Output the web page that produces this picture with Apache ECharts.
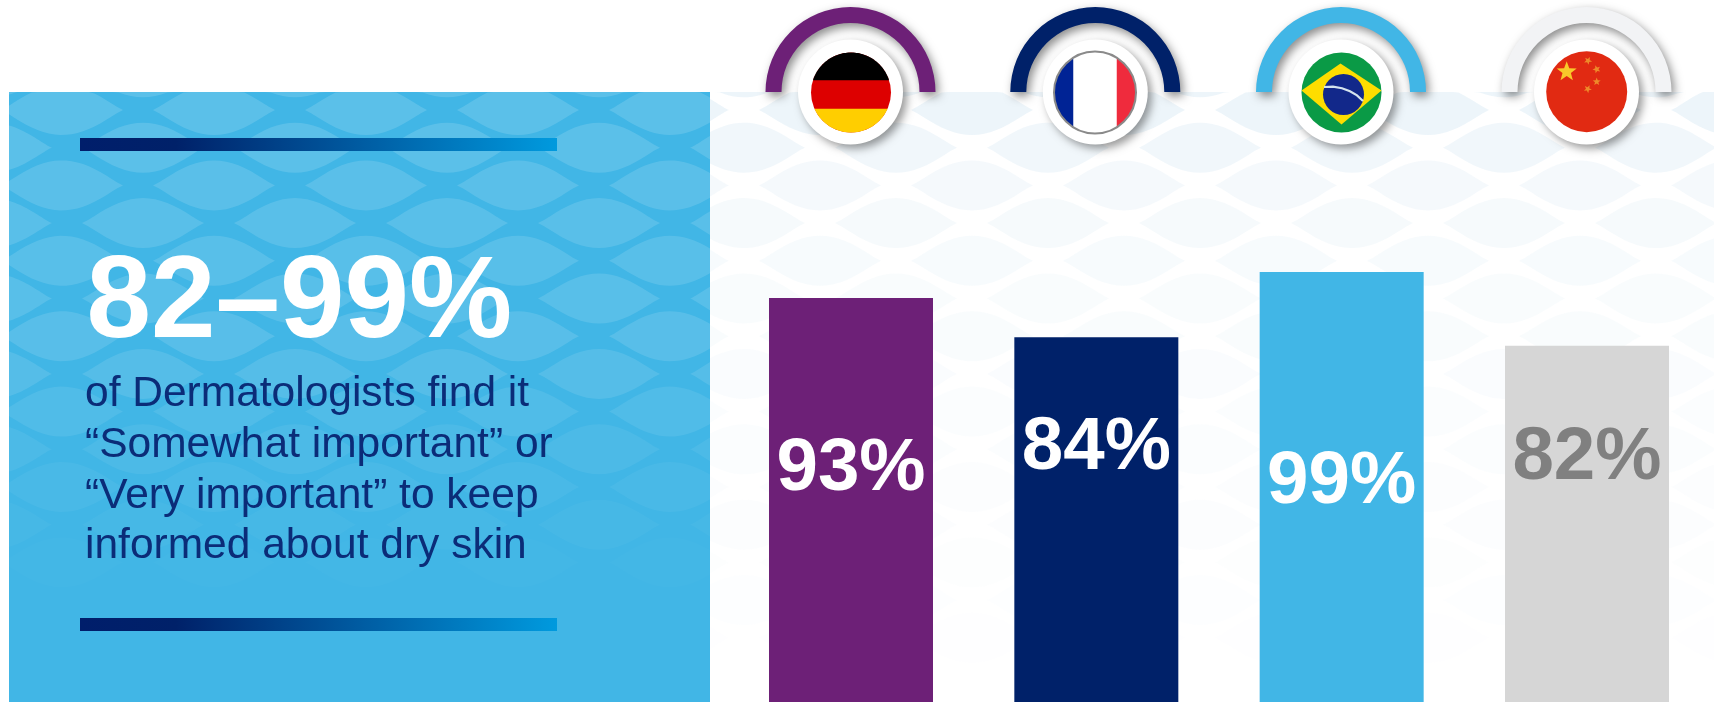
<!DOCTYPE html>
<html>
<head>
<meta charset="utf-8">
<style>html,body{margin:0;padding:0;background:#fff}#c{width:1714px;height:702px}</style>
<script src="https://cdn.jsdelivr.net/npm/echarts@6/dist/echarts.min.js"></script>
</head>
<body>
<div id="c"></div>
<script>
// ---- data ----
const countries = ['Germany', 'France', 'Brazil', 'China'];
const importantShare = [93, 84, 99, 82];
const headline = '82–99%';
const bodyLines = [
  'of Dermatologists find it',
  '“Somewhat important” or',
  '“Very important” to keep',
  'informed about dry skin'
];
// ---- per-bar styling (not data) ----
const barColors = ['#6D2077', '#002169', '#41B6E6', '#D6D6D6'];
const labelColors = ['#FFFFFF', '#FFFFFF', '#FFFFFF', '#808080'];
const labelOffsets = [-31, -71, -4.5, -65];
const arcColors = ['#6D2077', '#002169', '#41B6E6', '#F2F3F5'];
const badgeX = [850.5, 1095.3, 1341, 1586.5];
const BADGE_Y = 92;

const g = [];
const FONT = '"Liberation Sans", Arial, sans-serif';

// ---- decorative lens pattern, clipped to a rectangle ----
function lens(cx, cy, x0, y0, x1, y1, hw, hh) {
  const a = Math.max(cx - hw, x0), b = Math.min(cx + hw, x1);
  if (a >= b) return null;
  const up = [], low = [];
  const n = 20;
  for (let i = 0; i <= n; i++) {
    const x = a + (b - a) * i / n;
    const t = (x - cx) / hw;
    const f = hh * Math.pow(Math.max(0, 1 - t * t), 1.25);
    const top = Math.min(Math.max(cy - f, y0), y1);
    const bot = Math.max(Math.min(cy + f, y1), y0);
    up.push([x, top]);
    low.unshift([x, bot]);
  }
  return up.concat(low);
}
function lookup(stops, y) {
  if (y <= stops[0][0]) return stops[0][1];
  for (let i = 1; i < stops.length; i++) {
    if (y <= stops[i][0]) {
      const s = stops[i - 1], e = stops[i];
      return s[1] + (e[1] - s[1]) * (y - s[0]) / (e[0] - s[0]);
    }
  }
  return stops[stops.length - 1][1];
}
function pattern(x0, y0, x1, y1, startA, startB, rgb, alphaStops, z) {
  const spacing = 152, rowGap = 37.7;
  for (let k = -1; k < 16; k++) {
    const cy = 110 + rowGap * k;
    const alpha = lookup(alphaStops, cy);
    if (alpha <= 0.004) continue;
    const start = (k + 2) % 2 === 0 ? startA : startB;
    for (let cx = start; cx < x1 + 70; cx += spacing) {
      const pts = lens(cx, cy, x0, y0, x1, y1, 61, 25);
      if (!pts) continue;
      g.push({ type: 'polygon', silent: true, z: z,
        shape: { points: pts }, style: { fill: 'rgba(' + rgb + ',' + alpha.toFixed(3) + ')' } });
    }
  }
}

// left panel
g.push({ type: 'rect', silent: true, z: 0, shape: { x: 9, y: 92, width: 701, height: 610 }, style: { fill: '#41B6E6' } });
pattern(9, 92, 710, 702, 62 - 152, 143 - 152, '255,255,255',
  [[110, 0.14], [350, 0.12], [450, 0.06], [540, 0.025], [590, 0]], 0);
// right backdrop pattern
pattern(710, 92, 1714, 702, 820 - 152, 744, '205,228,240',
  [[110, 0.36], [190, 0.2], [300, 0.13], [420, 0.08], [560, 0.05], [680, 0]], 0);

// gradient rules
function rule(y) {
  g.push({ type: 'rect', silent: true, z: 1, shape: { x: 80, y: y, width: 477, height: 13 },
    style: { fill: new echarts.graphic.LinearGradient(0, 0, 1, 0, [
      { offset: 0, color: '#001E6B' }, { offset: 0.2, color: '#002169' }, { offset: 1, color: '#009ADE' }]) } });
}
rule(138); rule(618);

// text
g.push({ type: 'text', z: 3, silent: true, x: 86.5, y: 305,
  style: { text: headline, fill: '#fff', font: 'bold 116px ' + FONT, textAlign: 'left', textVerticalAlign: 'middle' } });
bodyLines.forEach((t, i) => {
  g.push({ type: 'text', z: 3, silent: true, x: 85, y: 394 + i * 50.9,
    style: { text: t, fill: '#0B2C78', font: '42.5px ' + FONT, textAlign: 'left', textVerticalAlign: 'middle' } });
});

// badges
badgeX.forEach((cx, i) => {
  g.push({ type: 'sector', z: 4, silent: true,
    shape: { cx: cx, cy: BADGE_Y, r: 85, r0: 69, startAngle: Math.PI, endAngle: 2 * Math.PI, clockwise: true },
    style: { fill: arcColors[i], shadowBlur: 10, shadowOffsetX: 3, shadowOffsetY: 4, shadowColor: 'rgba(0,0,0,0.45)' } });
  g.push({ type: 'circle', z: 5, silent: true, shape: { cx: cx, cy: BADGE_Y, r: 52.5 },
    style: { fill: '#fff', shadowBlur: 8, shadowOffsetX: 4, shadowOffsetY: 4, shadowColor: 'rgba(0,0,0,0.4)' } });
});
// circular segment beyond a chord: keeps the points of the circle for which keep(x,y) is true
function segment(cx, cy, r, keep, fill, z) {
  const pts = [];
  for (let i = 0; i < 180; i++) {
    const a = i * Math.PI / 90;
    const p = [cx + r * Math.cos(a), cy + r * Math.sin(a)];
    if (keep(p[0] - cx, p[1] - cy)) pts.push(p);
  }
  // rotate so the run of points is contiguous
  let cut = 0;
  for (let i = 1; i < pts.length; i++) {
    if (Math.hypot(pts[i][0] - pts[i - 1][0], pts[i][1] - pts[i - 1][1]) > 3) cut = i;
  }
  const ordered = pts.slice(cut).concat(pts.slice(0, cut));
  g.push({ type: 'polygon', z: z || 7, silent: true, shape: { points: ordered }, style: { fill: fill } });
}
function star(cx, cy, r, rot, fill) {
  const pts = [];
  for (let i = 0; i < 10; i++) {
    const a = -Math.PI / 2 + rot + i * Math.PI / 5;
    const q = i % 2 ? r * 0.42 : r;
    pts.push([cx + q * Math.cos(a), cy + q * Math.sin(a)]);
  }
  g.push({ type: 'polygon', z: 8, silent: true, shape: { points: pts }, style: { fill: fill } });
}
// Germany
(function () {
  const cx = 851, cy = 92.5, r = 40;
  g.push({ type: 'circle', z: 6, silent: true, shape: { cx, cy, r }, style: { fill: '#DD0000' } });
  segment(cx, cy, r, (dx, dy) => dy < -12, '#000000');
  segment(cx, cy, r, (dx, dy) => dy > 15, '#FFCE00');
})();
// France
(function () {
  const cx = 1095, cy = 92.5, r = 41;
  g.push({ type: 'circle', z: 6, silent: true, shape: { cx, cy, r }, style: { fill: '#fff' } });
  segment(cx, cy, r, (dx) => dx < -20.5, '#002395');
  segment(cx, cy, r, (dx) => dx > 20.5, '#EF2B3D');
  g.push({ type: 'circle', z: 8, silent: true, shape: { cx, cy, r }, style: { fill: 'none', stroke: '#8A8A8A', lineWidth: 2 } });
})();
// Brazil
(function () {
  const cx = 1341.5, cy = 92.5, r = 40;
  g.push({ type: 'circle', z: 6, silent: true, shape: { cx, cy, r }, style: { fill: '#0A9A46' } });
  g.push({ type: 'polygon', z: 7, silent: true,
    shape: { points: [[cx - 40, cy - 2], [cx - 1, cy - 29], [cx + 40, cy - 2], [cx, cy + 32]] }, style: { fill: '#FEDD00' } });
  g.push({ type: 'circle', z: 8, silent: true, shape: { cx: 1343.5, cy: 94.5, r: 20.5 }, style: { fill: '#12288A' } });
  g.push({ type: 'polyline', z: 9, silent: true,
    shape: { points: [[1324, 87], [1333, 86.6], [1342, 88.2], [1350, 91.2], [1357, 95.4], [1363, 101]] },
    style: { fill: 'none', stroke: '#D5E4EE', lineWidth: 2.2 } });
})();
// China
(function () {
  const cx = 1586.7, cy = 91.7, r = 40.5;
  g.push({ type: 'circle', z: 6, silent: true, shape: { cx, cy, r }, style: { fill: '#E12A12' } });
  star(1566.7, 71.7, 10.5, 0, '#F8C92A');
  star(1588, 60.7, 4.2, 0.5, '#EE8A2A');
  star(1596.7, 69.3, 4.2, 0.9, '#EE8A2A');
  star(1596.7, 81.7, 4.2, 0, '#EE8A2A');
  star(1587.7, 89, 4.2, 0.5, '#EE8A2A');
})();

const chart = echarts.init(document.getElementById('c'), null, { renderer: 'canvas', width: 1714, height: 702 });
chart.setOption({
  animation: false,
  backgroundColor: '#ffffff',
  grid: { left: 728.33, width: 981.33, top: 267.7, height: 434.3 },
  xAxis: { type: 'category', data: countries, show: false },
  yAxis: { type: 'value', min: 0, max: 100, show: false },
  graphic: { elements: g },
  series: [{
    type: 'bar',
    barWidth: 164,
    z: 2,
    data: importantShare.map((v, i) => ({
      value: v,
      itemStyle: { color: barColors[i] },
      label: { color: labelColors[i], offset: [0, labelOffsets[i]] }
    })),
    label: {
      show: true,
      position: 'inside',
      formatter: '{c}%',
      fontFamily: FONT,
      fontWeight: 'bold',
      fontSize: 74.5
    }
  }]
});
</script>
</body>
</html>
